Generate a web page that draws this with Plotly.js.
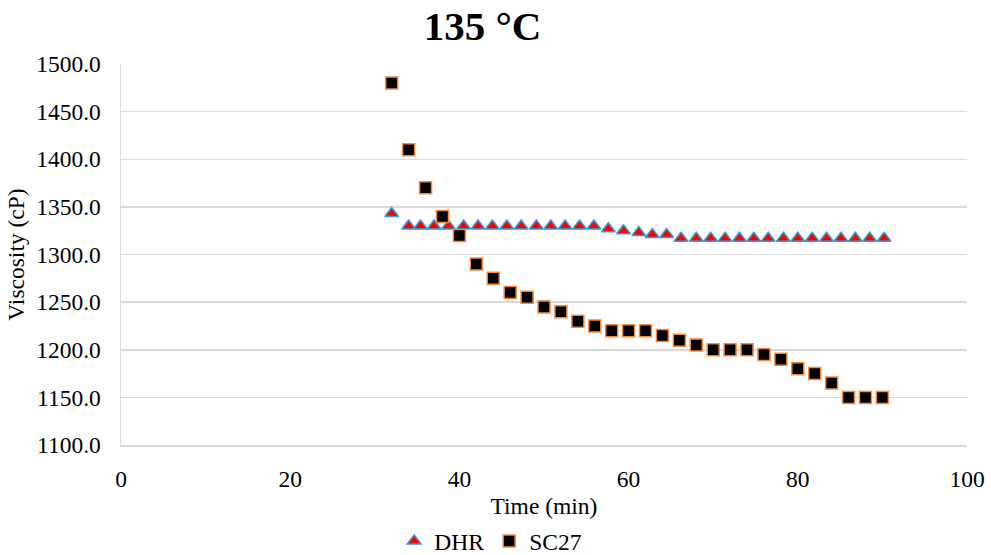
<!DOCTYPE html>
<html>
<head>
<meta charset="utf-8">
<script src="https://cdn.plot.ly/plotly-3.0.1.min.js"></script>
<style>html,body{margin:0;padding:0;background:#fff;}#chart{width:991px;height:555px;}</style>
</head>
<body>
<div id="chart"></div>
<script>
const dhrTime = [32.0, 34.0, 35.4, 37.0, 38.7, 40.5, 42.2, 43.9, 45.6, 47.3, 49.1, 50.8, 52.5, 54.2, 55.9, 57.6, 59.4, 61.2, 62.8, 64.5, 66.2, 68.0, 69.7, 71.4, 73.1, 74.8, 76.5, 78.3, 80.0, 81.7, 83.4, 85.1, 86.8, 88.5, 90.2];
const dhrVisc = [1343, 1330, 1330, 1330, 1330, 1330, 1330, 1330, 1330, 1330, 1330, 1330, 1330, 1330, 1330, 1327, 1325, 1323, 1321, 1321, 1317, 1317, 1317, 1317, 1317, 1317, 1317, 1317, 1317, 1317, 1317, 1317, 1317, 1317, 1317];
const scTime = [32, 34, 36, 38, 40, 42, 44, 46, 48, 50, 52, 54, 56, 58, 60, 62, 64, 66, 68, 70, 72, 74, 76, 78, 80, 82, 84, 86, 88, 90];
const scVisc = [1480, 1410, 1370, 1340, 1320, 1290, 1275, 1260, 1255, 1245, 1240, 1230, 1225, 1220, 1220, 1220, 1215, 1210, 1205, 1200, 1200, 1200, 1195, 1190, 1180, 1175, 1165, 1150, 1150, 1150];
const seriesNames = ["DHR", "SC27"];
const chartTitle = "135 °C";
const xTitle = "Time (min)";
const yTitle = "Viscosity (cP)";

const font = "'Liberation Serif', 'Times New Roman', serif";
const traces = [
  {x: dhrTime, y: dhrVisc, name: seriesNames[0], type: "scatter", mode: "markers",
   marker: {symbol: "triangle-up", size: 12, color: "#ff0000", line: {color: "#2e9fe0", width: 1.5}}},
  {x: scTime, y: scVisc, name: seriesNames[1], type: "scatter", mode: "markers",
   marker: {symbol: "square", size: 12, color: "#000000", line: {color: "#f58a3c", width: 1.5}}}
];
const layout = {
  width: 991, height: 555,
  paper_bgcolor: "#fff", plot_bgcolor: "#fff",
  margin: {l: 121, r: 24, t: 64, b: 110, autoexpand: false},
  font: {family: font, size: 23.5, color: "#000"},
  title: {text: chartTitle, font: {family: font, size: 41, color: "#000", weight: "bold"},
          x: 0.487, xanchor: "center", y: 0.953, yanchor: "middle"},
  xaxis: {range: [0, 100], dtick: 20, tick0: 0, showgrid: false, zeroline: false, automargin: false,
          showline: true, linecolor: "#d9d9d9", linewidth: 1.5, ticks: "", ticklen: 0, ticklabelstandoff: 12,
          title: {text: xTitle, font: {size: 23.5}, standoff: 15},
          tickfont: {size: 23.5}},
  yaxis: {range: [1100, 1500], dtick: 50, tick0: 1100, tickformat: ".1f", automargin: false,
          showgrid: true, gridcolor: "#d9d9d9", gridwidth: 1.5, zeroline: false,
          showline: true, linecolor: "#d9d9d9", linewidth: 1.5, ticks: "", ticklen: 0,
          ticklabelstandoff: 14,
          title: {text: yTitle, font: {size: 23.5}, standoff: 5},
          tickfont: {size: 23.5}},
  showlegend: true,
  legend: {orientation: "h", x: 0.437, xanchor: "center", yref: "container", y: 0.025, yanchor: "middle",
           font: {size: 23.5}, itemwidth: 30, tracegroupgap: 0, bgcolor: "rgba(0,0,0,0)"}
};
Plotly.newPlot("chart", traces, layout, {displayModeBar: false, staticPlot: true});
</script>
</body>
</html>
